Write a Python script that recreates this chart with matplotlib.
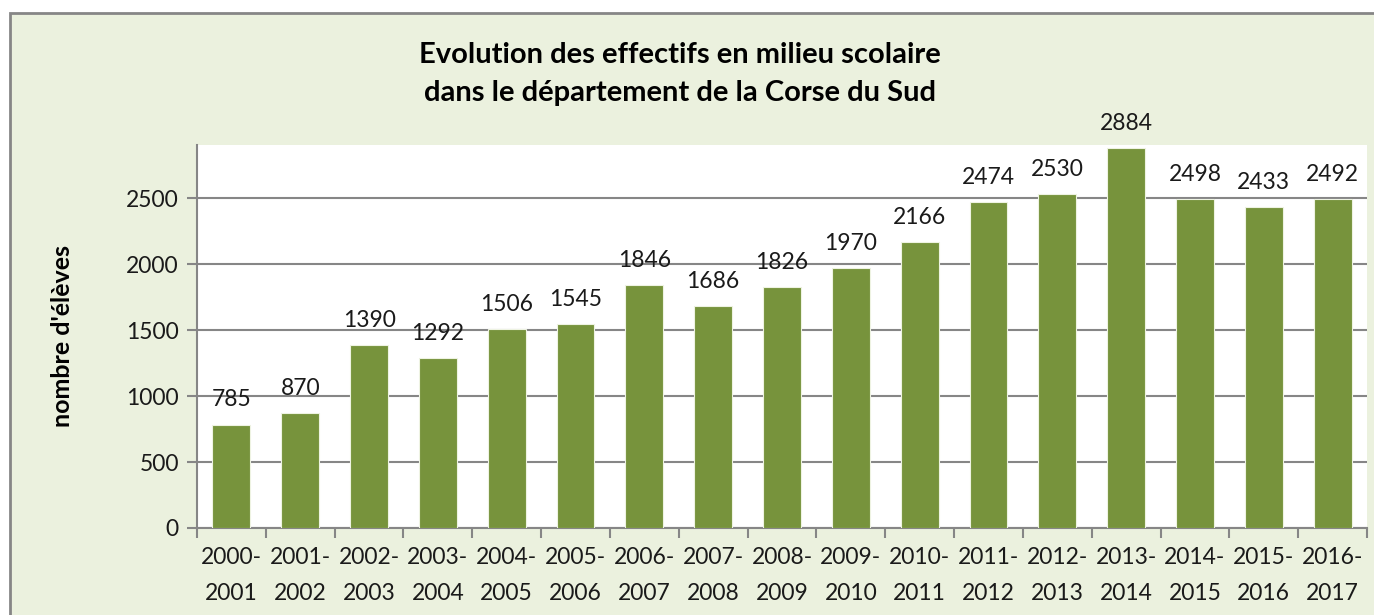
import matplotlib.pyplot as plt
from matplotlib.patches import Rectangle

# données
annees = ["2000-\n2001", "2001-\n2002", "2002-\n2003", "2003-\n2004", "2004-\n2005",
          "2005-\n2006", "2006-\n2007", "2007-\n2008", "2008-\n2009", "2009-\n2010",
          "2010-\n2011", "2011-\n2012", "2012-\n2013", "2013-\n2014", "2014-\n2015",
          "2015-\n2016", "2016-\n2017"]
effectifs = [785, 870, 1390, 1292, 1506, 1545, 1846, 1686, 1826, 1970,
             2166, 2474, 2530, 2884, 2498, 2433, 2492]
yticks = [0, 500, 1000, 1500, 2000, 2500]

fond = "#EBF1DE"
vert = "#77933C"
gris = "#868686"

plt.rcParams['font.family'] = ['Lato', 'DejaVu Sans']

fig = plt.figure(figsize=(13.74, 6.15), dpi=100)
fig.patch.set_facecolor("white")

# cadre du graphique
W, H = 1374, 615
cadre = Rectangle((10 / W, -0.1), 1.2, (H - 13) / H + 0.1, transform=fig.transFigure,
                  facecolor=fond, edgecolor=gris, linewidth=2, zorder=-5)
fig.patches.append(cadre)

ax = fig.add_axes([197 / W, (H - 528) / H, (1367 - 197) / W, (528 - 145) / H])
ax.set_zorder(2)
ax.set_facecolor("white")

x = list(range(len(effectifs)))
bars = ax.bar(x, effectifs, width=0.55, color=vert, edgecolor="#EEF3E2", linewidth=0.8, zorder=3)

for xi, v in zip(x, effectifs):
    ax.annotate(str(v), (xi, v), xytext=(0, 13), textcoords="offset points",
                ha="center", va="baseline", fontsize=16.5, color="#1a1a1a",
                annotation_clip=False)

ax.set_xlim(-0.5, len(effectifs) - 0.5)
ax.set_ylim(0, 2905)
ax.set_yticks(yticks)
ax.set_xticks(x)
ax.set_xticklabels(annees, fontsize=16.5, linespacing=1.85)
ax.set_xticks([i + 0.5 for i in range(-1, len(effectifs))], minor=True)
ax.tick_params(axis="x", which="major", length=0, pad=14, colors="#1a1a1a")
ax.tick_params(axis="x", which="minor", length=7, width=1.5, color=gris)
ax.tick_params(axis="y", length=7, width=1.5, color=gris, labelsize=16.5,
               labelcolor="#1a1a1a", pad=6)

ax.grid(axis="y", color=gris, linewidth=1.5, zorder=1)
for s in ["top", "right"]:
    ax.spines[s].set_visible(False)
for s in ["left", "bottom"]:
    ax.spines[s].set_color(gris)
    ax.spines[s].set_linewidth(1.5)

fig.text(0.495, 1 - 74 / H, "Evolution des effectifs en milieu scolaire\ndans le département de la Corse du Sud",
         ha="center", va="center", fontsize=21, fontweight="bold", linespacing=1.55)
fig.text(62 / W, 1 - 336 / H, "nombre d'élèves", rotation=90, ha="center", va="center",
         fontsize=18, fontweight="bold")

fig.savefig("out.png", dpi=100, facecolor=fig.get_facecolor())
